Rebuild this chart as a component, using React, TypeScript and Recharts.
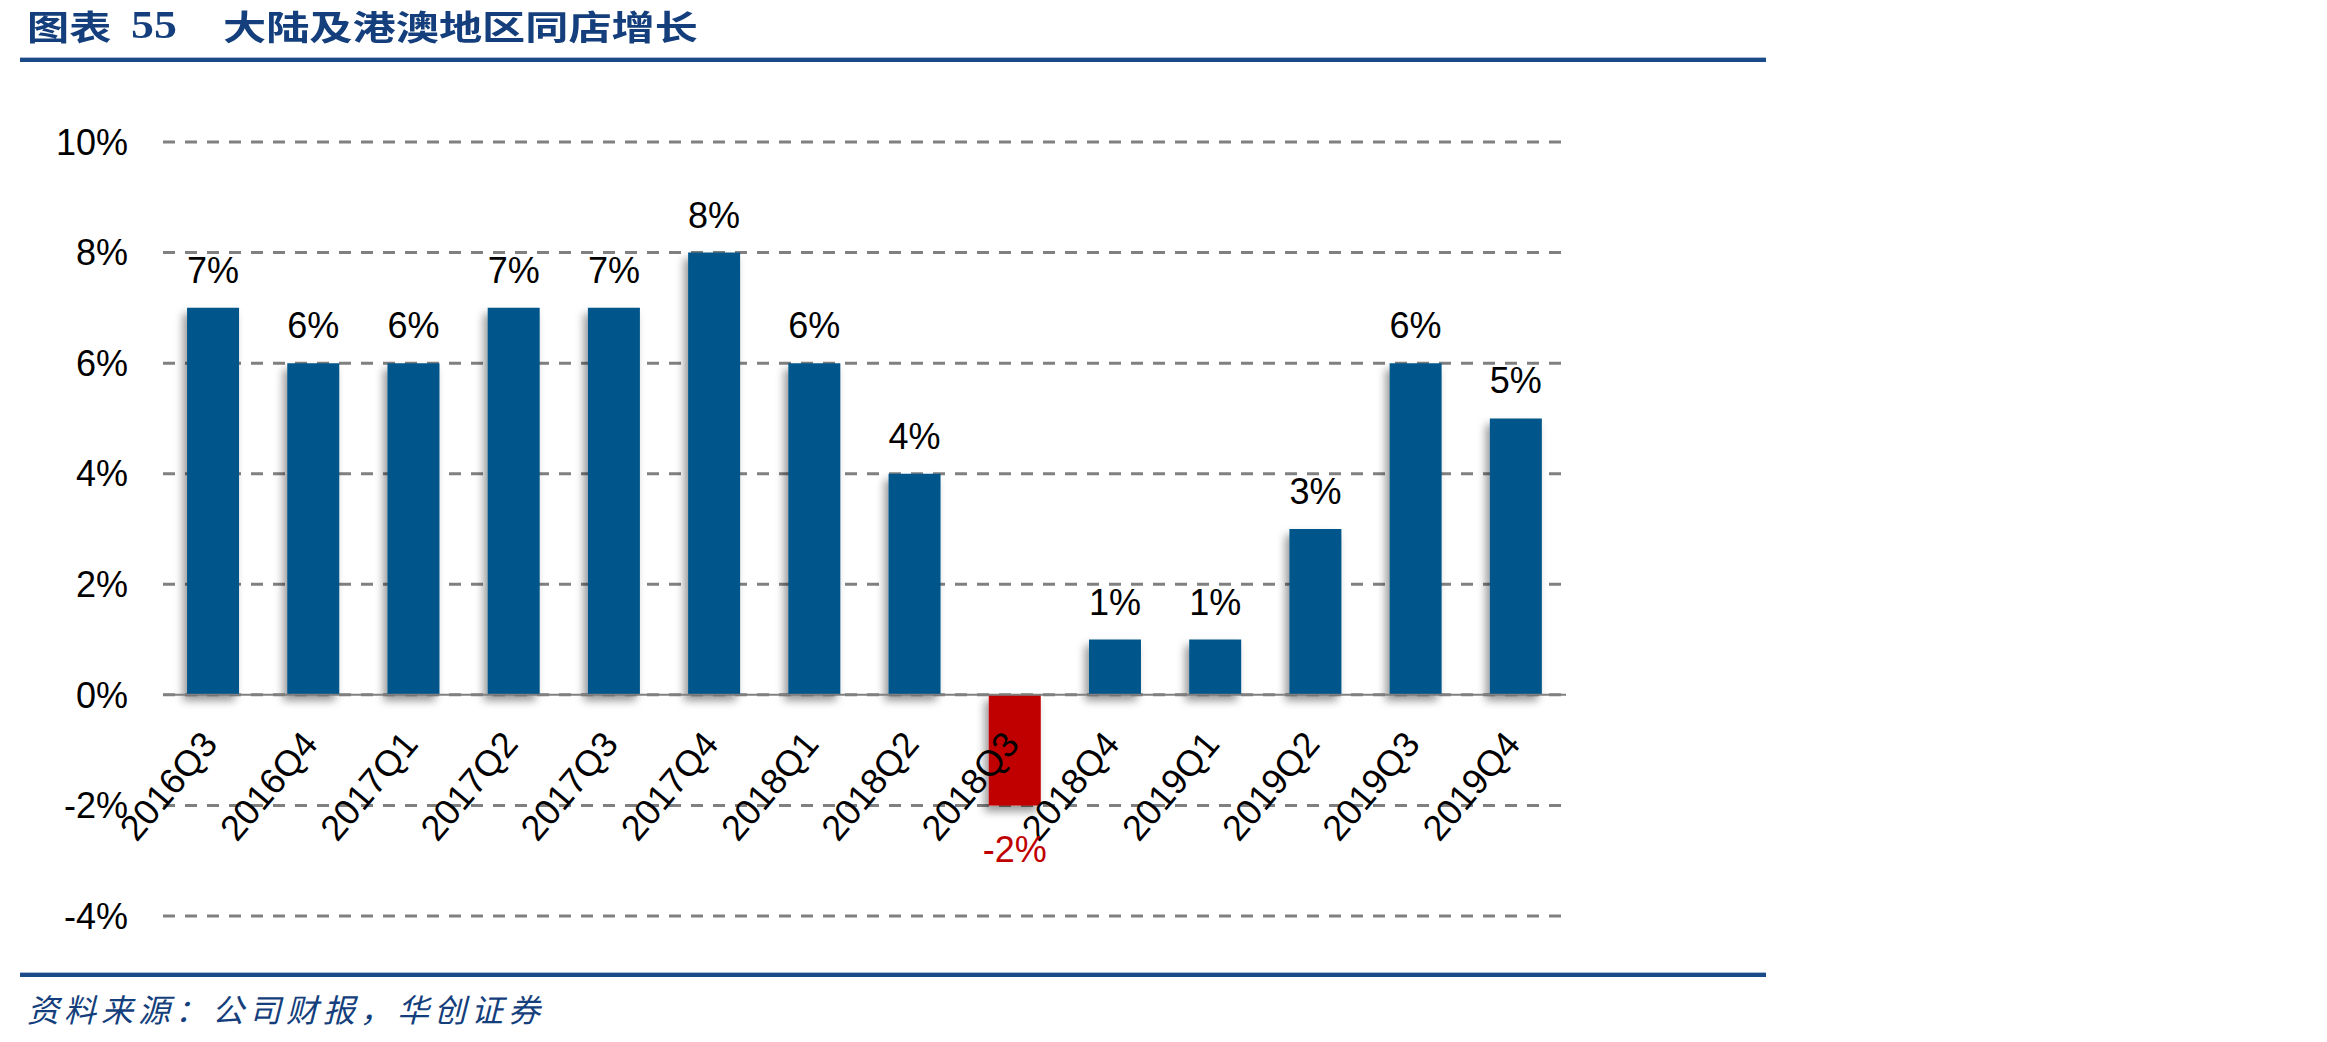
import React from 'react';
import { BarChart, Bar, XAxis, YAxis, CartesianGrid, ReferenceLine, Cell, LabelList } from 'recharts';

const quarters = [
  '2016Q3', '2016Q4', '2017Q1', '2017Q2', '2017Q3', '2017Q4', '2018Q1',
  '2018Q2', '2018Q3', '2018Q4', '2019Q1', '2019Q2', '2019Q3', '2019Q4',
];
const growth = [7, 6, 6, 7, 7, 8, 6, 4, -2, 1, 1, 3, 6, 5];
const yTicks = [-4, -2, 0, 2, 4, 6, 8, 10];

const data = quarters.map((q, i) => ({ quarter: q, growth: growth[i] }));

const FONT = '"Liberation Sans", Arial, sans-serif';
const CJK = '"Noto Sans CJK SC", sans-serif';
const NAVY = '#143f7c';
const BLUE = '#02568a';
const RED = '#c00000';

const CHART_W = 1620;
const CHART_H = 1000;
const MARGIN = { top: 142, right: 54, bottom: 24, left: 33 };
const X_AXIS_H = 60;
const Y_MIN = -4;
const Y_MAX = 10;
const PLOT_H = CHART_H - MARGIN.top - MARGIN.bottom - X_AXIS_H;
// distance from the bottom of the plot up to the 0% line
const zeroLift = ((0 - Y_MIN) / (Y_MAX - Y_MIN)) * PLOT_H;

const QuarterTick = (props: any) => {
  const { x, y, payload } = props;
  const tx = x + 6;
  const ty = y - zeroLift + 50;
  return (
    <text
      x={tx}
      y={ty}
      textAnchor="end"
      fontSize={36}
      fontFamily={FONT}
      fill="#000"
      transform={`rotate(-50, ${tx}, ${ty})`}
    >
      {payload.value}
    </text>
  );
};

const ValueLabel = (props: any) => {
  const { x, y, width, height, value } = props;
  const top = Math.min(Number(y), Number(y) + Number(height));
  const bottom = Math.max(Number(y), Number(y) + Number(height));
  const cx = Number(x) + Number(width) / 2;
  const neg = Number(value) < 0;
  return (
    <text
      x={cx}
      y={neg ? bottom + 57 : top - 25}
      textAnchor="middle"
      fontSize={36}
      fontFamily={FONT}
      fill={neg ? RED : '#000'}
    >
      {`${value}%`}
    </text>
  );
};

const Rule = ({ top }: { top: number }) => (
  <div style={{ position: 'absolute', left: 20, top, width: 1746 }}>
    <div style={{ height: 1, background: '#a8bcd9' }} />
    <div style={{ height: 4, background: '#1b4a89' }} />
  </div>
);

export default function App() {
  return (
    <div style={{ position: 'absolute', left: 0, top: 0, width: 2327, height: 1042, background: '#fff', overflow: 'hidden' }}>
      <div style={{ position: 'absolute', left: 27, top: 4, color: NAVY, fontFamily: CJK, fontWeight: 700, fontSize: 34, whiteSpace: 'nowrap', transform: 'scaleX(1.24)', transformOrigin: 'left top', lineHeight: '44px' }}>
        图表
      </div>
      <div style={{ position: 'absolute', left: 131, top: 3, color: NAVY, fontFamily: '"Liberation Serif", serif', fontWeight: 700, fontSize: 40, lineHeight: '44px', transform: 'scaleX(1.15)', transformOrigin: 'left top' }}>
        55
      </div>
      <div style={{ position: 'absolute', left: 223, top: 4, color: NAVY, fontFamily: CJK, fontWeight: 700, fontSize: 34, whiteSpace: 'nowrap', transform: 'scaleX(1.27)', transformOrigin: 'left top', lineHeight: '44px' }}>
        大陆及港澳地区同店增长
      </div>
      <Rule top={57} />

      <div style={{ position: 'absolute', left: 0, top: 0 }}>
        <BarChart width={CHART_W} height={CHART_H} data={data} margin={MARGIN} barCategoryGap="24%">
          <defs>
            <filter id="barShadow" x="-50%" y="-20%" width="200%" height="150%">
              <feDropShadow dx={-4} dy={6} stdDeviation={4} floodColor="#000" floodOpacity={0.4} />
            </filter>
          </defs>
          <CartesianGrid vertical={false} stroke="#808080" strokeWidth={3} strokeDasharray="12 10" />
          <XAxis
            dataKey="quarter"
            height={X_AXIS_H}
            axisLine={false}
            tickLine={false}
            tickSize={0}
            tickMargin={0}
            interval={0}
            tick={<QuarterTick />}
          />
          <YAxis
            width={130}
            domain={[Y_MIN, Y_MAX]}
            ticks={yTicks}
            axisLine={false}
            tickLine={false}
            tickMargin={29}
            tickFormatter={(v: number) => `${v}%`}
            tick={{ fontSize: 36, fontFamily: FONT, fill: '#000' }}
          />
          <ReferenceLine y={0} stroke="#808080" strokeWidth={2} />
          <Bar dataKey="growth" isAnimationActive={false} filter="url(#barShadow)">
            {data.map((d) => (
              <Cell key={d.quarter} fill={d.growth < 0 ? RED : BLUE} filter="url(#barShadow)" />
            ))}
            <LabelList dataKey="growth" content={<ValueLabel />} />
          </Bar>
        </BarChart>
      </div>

      <Rule top={972} />
      <div style={{ position: 'absolute', left: 27, top: 986, color: NAVY, fontFamily: CJK, fontStyle: 'italic', fontSize: 32, letterSpacing: 5, whiteSpace: 'nowrap', lineHeight: '44px' }}>
        资料来源：公司财报，华创证券
      </div>
    </div>
  );
}
